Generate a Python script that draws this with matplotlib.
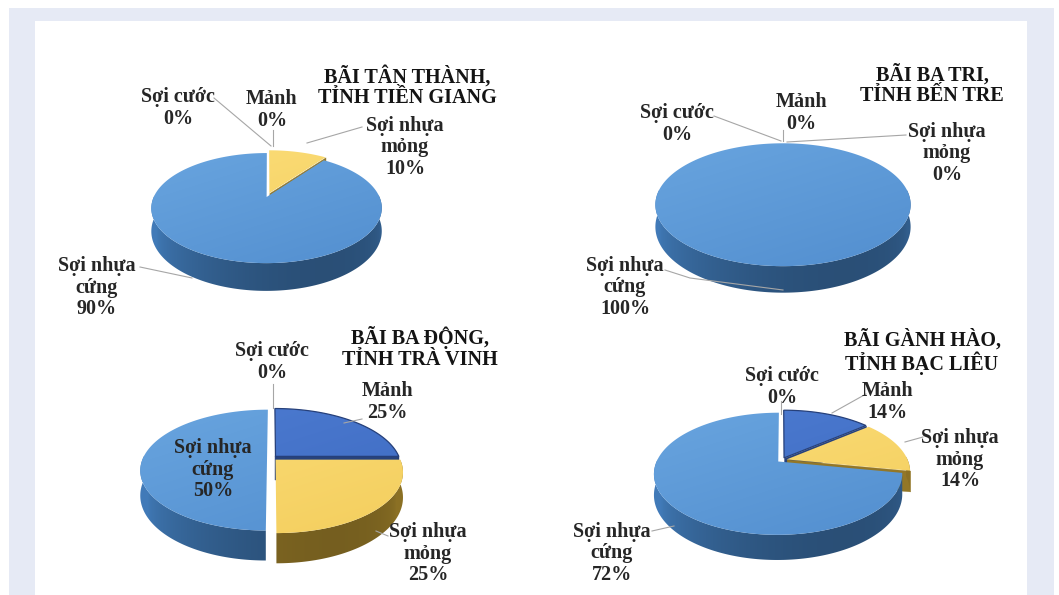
import numpy as np
import matplotlib
matplotlib.use('Agg')
from matplotlib import pyplot as plt
from matplotlib.collections import PolyCollection
from matplotlib.patches import Polygon, Rectangle

plt.rcParams['font.family'] = ['Liberation Serif', 'DejaVu Serif']

# survey sites and share of each debris type (%), slices run clockwise from 12 o'clock
sites = ['BÃI TÂN THÀNH,\nTỈNH TIỀN GIANG', 'BÃI BA TRI,\nTỈNH BẾN TRE',
         'BÃI BA ĐỘNG,\nTỈNH TRÀ VINH', 'BÃI GÀNH HÀO,\nTỈNH BẠC LIÊU']
names = ['Mảnh', 'Sợi nhựa\nmỏng', 'Sợi nhựa\ncứng', 'Sợi cước']
manh = [0, 0, 25, 14]
mong = [10, 0, 25, 14]
cung = [90, 100, 50, 72]
cuoc = [0, 0, 0, 0]

# top-face gradient (light, dark) and side colour per category
top_cols = [((78, 125, 210), (58, 102, 190)),
            ((252, 222, 122), (242, 203, 88)),
            ((106, 166, 224), (78, 138, 204)),
            ((160, 160, 160), (140, 140, 140))]
side_cols = [(52, 88, 165), (196, 158, 52), (70, 132, 198), (120, 120, 120)]
edge_cols = ['#26407a', 'none', 'none', 'none']

PERSP = 0.2
EXPLODE = 0.04

pies = [
    dict(cx=268, cy=195, a=112, b=52, d=22, title=(407, 87),
         labels=[(272, 110), (405, 147), (97, 288), (178, 108)],
         leaders=[[(273, 130), (273, 146)], [(362, 127), (307, 143)],
                  [(140, 267), (192, 278)], [(214, 98), (271, 146)]]),
    dict(cx=783, cy=190, a=124, b=58, d=21, title=(932, 85),
         labels=[(801, 113), (947, 153), (625, 287), (677, 124)],
         leaders=[[(783, 130), (783, 141)], [(906, 135), (787, 142)],
                  [(665, 270), (690, 278), (783, 290)], [(714, 116), (781, 141)]]),
    dict(cx=272, cy=458, a=124, b=58, d=24, title=(420, 348),
         labels=[(387, 402), (428, 554), (213, 470), (272, 362)],
         leaders=[[(362, 419), (344, 423)], [(388, 536), (376, 531)],
                  [], [(273, 384), (273, 408)]]),
    dict(cx=782, cy=460, a=121, b=58, d=20, title=(922, 352),
         labels=[(887, 402), (960, 460), (612, 553), (782, 387)],
         leaders=[[(866, 394), (832, 413)], [(923, 437), (905, 442)],
                  [(652, 531), (674, 526)], [(781, 401), (781, 414)]]),
]

fig = plt.figure(figsize=(10.59, 5.95), dpi=100)
ax = fig.add_axes([0, 0, 1, 1])
ax.set_axis_off()

ax.add_patch(Rectangle((9, 8), 1045, 600, facecolor='#e6eaf5', edgecolor='none', zorder=0))
ax.add_patch(Rectangle((35, 21), 992, 600, facecolor='white', edgecolor='none', zorder=0))


def proj(p, r, th, h, off):
    u = r * np.cos(th) + off[0]
    v = r * np.sin(th) + off[1]
    k = 1.0 / (1.0 + PERSP * v)
    return p['cx'] + p['a'] * u * k, p['cy'] - p['b'] * v * k + h * k


def rgb(c, f=1.0):
    return tuple(min(1.0, x * f / 255.0) for x in c)


def shaded_fill(pts, img, extent, z):
    poly = Polygon(pts, closed=True, facecolor='none', edgecolor='none', zorder=z)
    ax.add_patch(poly)
    im = ax.imshow(img, extent=extent, origin='upper', aspect='auto',
                   interpolation='bilinear', zorder=z)
    im.set_clip_path(poly)
    return poly


for i, p in enumerate(pies):
    vals = [manh[i], mong[i], cung[i], cuoc[i]]
    total = float(sum(vals))
    slices = []
    start = 90.0
    for j, v in enumerate(vals):
        sweep = 360.0 * v / total
        if v > 0:
            th0, th1 = np.radians(start), np.radians(start - sweep)
            mid = 0.5 * (th0 + th1)
            off = (EXPLODE * np.cos(mid), EXPLODE * np.sin(mid))
            slices.append((j, th0, th1, mid, off))
        start -= sweep

    x0, x1 = p['cx'] - p['a'] * 1.2, p['cx'] + p['a'] * 1.2
    y0, y1 = p['cy'] - p['b'] * 1.0, p['cy'] + p['b'] * 1.4 + p['d'] * 1.5
    ext = (x0, x1, y1, y0)

    # wall shading depends on where it sits round the rim (darkest lower right)
    xs = np.linspace(-1.2, 1.2, 200)
    th_x = -np.arccos(np.clip(xs, -1, 1))
    fac = 0.82 - 0.22 * np.cos(th_x - np.radians(300))

    # walls, back to front
    for j, th0, th1, mid, off in sorted(slices, key=lambda s: -np.sin(s[3])):
        cuts = []
        for phi, sign in ((th0, -1), (th1, 1)):
            if sign * np.cos(phi) > 1e-6:
                cuts.append([proj(p, 0, phi, 0, off), proj(p, 1, phi, 0, off),
                             proj(p, 1, phi, p['d'], off), proj(p, 0, phi, p['d'], off)])
        if cuts:
            c = rgb(side_cols[j], 0.75)
            ax.add_collection(PolyCollection(cuts, facecolors=[c], edgecolors=[c],
                                             linewidths=0.3, zorder=2))
        lo, hi = max(th1, -np.pi - 0.05), min(th0, 0.05)
        if np.sin(th1) > 0.05 and np.sin(th0) > 0.05 and th0 - th1 < np.pi:
            continue
        ths = np.linspace(th0, th1, 240)
        ths = ths[np.sin(ths) < 0.05]
        if len(ths) < 2:
            continue
        top = [proj(p, 1, t, 0, off) for t in ths]
        bot = [proj(p, 1, t, p['d'], off) for t in ths[::-1]]
        base = np.array(rgb(side_cols[j]))
        img = np.clip(fac[None, :, None] * base[None, None, :], 0, 1).repeat(4, axis=0)
        shaded_fill(top + bot, img, ext, 2)

    # top faces with a soft diagonal gradient
    yy, xx = np.mgrid[0:1:60j, 0:1:60j]
    t = np.clip(0.35 * xx + 0.65 * yy, 0, 1)[..., None]
    for j, th0, th1, mid, off in slices:
        ths = np.linspace(th0, th1, max(3, int(np.degrees(th0 - th1))))
        pts = [proj(p, 0, mid, 0, off)] + [proj(p, 1, th, 0, off) for th in ths]
        light = np.array(rgb(top_cols[j][0]))
        dark = np.array(rgb(top_cols[j][1]))
        shaded_fill(pts, light * (1 - t) + dark * t, ext, 3)
        ax.add_patch(Polygon(pts, closed=True, facecolor='none', edgecolor=edge_cols[j],
                             linewidth=0.9, zorder=4))

    # leader lines and labels
    for j, v in enumerate(vals):
        seg = p['leaders'][j]
        if seg:
            sx, sy = zip(*seg)
            ax.plot(sx, sy, color='#a6a6a6', lw=0.8, zorder=5)
        lx, ly = p['labels'][j]
        ax.text(lx, ly, f'{names[j]}\n{v}%', ha='center', va='center',
                fontsize=14.5, fontweight='bold', color='#262626',
                linespacing=1.1, zorder=6)
    tx, ty = p['title']
    ax.text(tx, ty, sites[i], ha='center', va='center', fontsize=14.5,
            fontweight='bold', color='#141414', linespacing=1.05, zorder=6)

ax.set_xlim(0, 1059)
ax.set_ylim(595, 0)
fig.savefig('out.png', dpi=100)
